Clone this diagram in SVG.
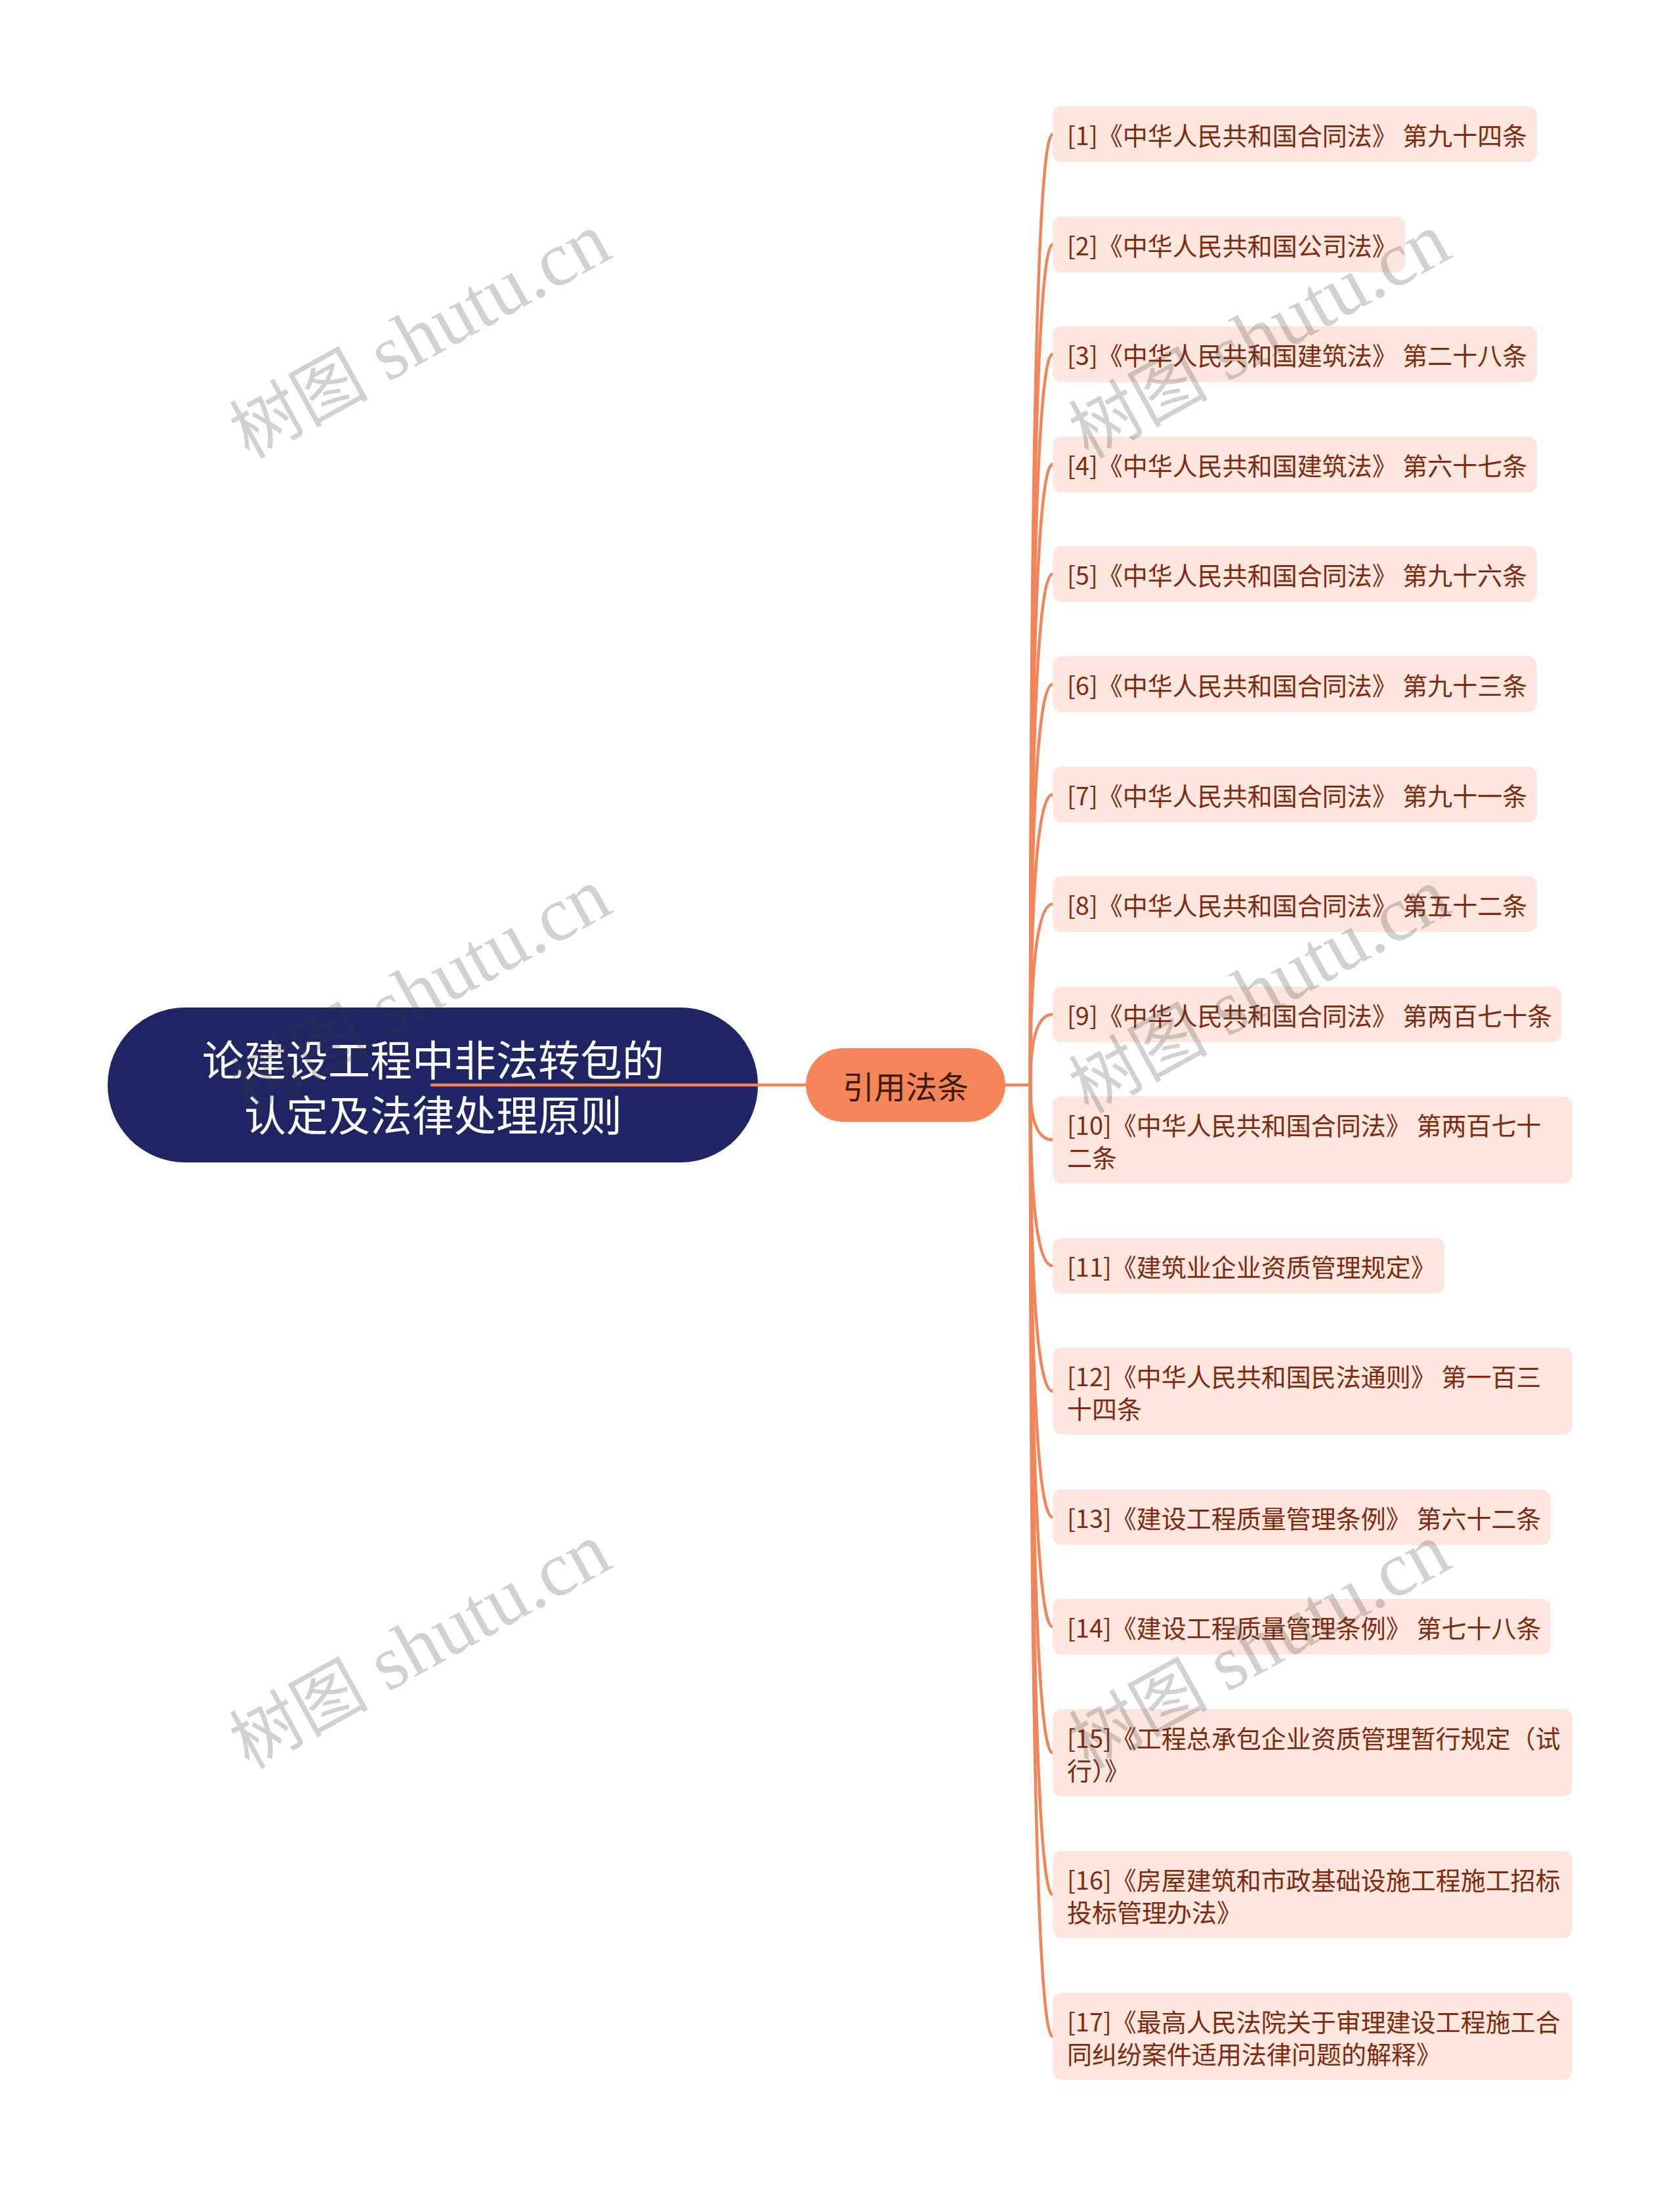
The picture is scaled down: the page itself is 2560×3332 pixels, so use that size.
<svg xmlns="http://www.w3.org/2000/svg" width="2560" height="3332" viewBox="0 0 2560 3332">
<style>
.box{fill:#fde6de}
.t{font-family:"Noto Sans CJK SC","Noto Sans",sans-serif;font-size:38px;fill:#7e2a0e;dominant-baseline:central}
.c{fill:none;stroke:#f2845a;stroke-width:4.5;stroke-linecap:round}
.wm{font-family:"Liberation Serif","Noto Sans CJK SC",serif;font-size:118px;fill:#3c3c3c;opacity:0.23;text-anchor:middle}
.wc{font-family:"Noto Sans CJK SC",serif;font-size:106px}
</style>
<rect width="2560" height="3332" fill="#ffffff"/>
<g id="root">
<rect x="164" y="1535" width="991" height="236" rx="118" ry="118" fill="#1f2563"/>
<text x="660" y="1611" font-family="Noto Sans CJK SC, sans-serif" font-size="64" fill="#ffffff" text-anchor="middle" dominant-baseline="central">论建设工程中非法转包的</text>
<text x="660" y="1695" font-family="Noto Sans CJK SC, sans-serif" font-size="64" fill="#ffffff" text-anchor="middle" dominant-baseline="central">认定及法律处理原则</text>
</g>
<g id="connectors">
<path class="c" d="M658 1653 H1228"/>
<path class="c" d="M1532 1653 H1570"/>
<path class="c" d="M1570 1653 Q1570 204.5 1604 204.5"/>
<path class="c" d="M1570 1653 Q1570 372.5 1604 372.5"/>
<path class="c" d="M1570 1653 Q1570 539.5 1604 539.5"/>
<path class="c" d="M1570 1653 Q1570 707.5 1604 707.5"/>
<path class="c" d="M1570 1653 Q1570 874.5 1604 874.5"/>
<path class="c" d="M1570 1653 Q1570 1042.5 1604 1042.5"/>
<path class="c" d="M1570 1653 Q1570 1210.5 1604 1210.5"/>
<path class="c" d="M1570 1653 Q1570 1377.5 1604 1377.5"/>
<path class="c" d="M1570 1653 Q1570 1545.5 1604 1545.5"/>
<path class="c" d="M1570 1653 Q1570 1736.5 1604 1736.5"/>
<path class="c" d="M1570 1653 Q1570 1928.5 1604 1928.5"/>
<path class="c" d="M1570 1653 Q1570 2119.5 1604 2119.5"/>
<path class="c" d="M1570 1653 Q1570 2311.5 1604 2311.5"/>
<path class="c" d="M1570 1653 Q1570 2478.5 1604 2478.5"/>
<path class="c" d="M1570 1653 Q1570 2670.5 1604 2670.5"/>
<path class="c" d="M1570 1653 Q1570 2886.5 1604 2886.5"/>
<path class="c" d="M1570 1653 Q1570 3102.5 1604 3102.5"/>
</g>
<g id="main">
<rect x="1228" y="1597" width="304" height="112" rx="56" ry="56" fill="#f7855a"/>
<text x="1380" y="1653" font-family="Noto Sans CJK SC, sans-serif" font-size="48" fill="#3a1c10" text-anchor="middle" dominant-baseline="central">引用法条</text>
</g>
<g id="n1"><rect class="box" x="1604" y="162" width="738" height="85" rx="14"/><text class="t" x="1626" y="204.5">[1]《中华人民共和国合同法》 第九十四条</text></g>
<g id="n2"><rect class="box" x="1604" y="330" width="537" height="85" rx="14"/><text class="t" x="1626" y="372.5">[2]《中华人民共和国公司法》</text></g>
<g id="n3"><rect class="box" x="1604" y="497" width="738" height="85" rx="14"/><text class="t" x="1626" y="539.5">[3]《中华人民共和国建筑法》 第二十八条</text></g>
<g id="n4"><rect class="box" x="1604" y="665" width="738" height="85" rx="14"/><text class="t" x="1626" y="707.5">[4]《中华人民共和国建筑法》 第六十七条</text></g>
<g id="n5"><rect class="box" x="1604" y="832" width="738" height="85" rx="14"/><text class="t" x="1626" y="874.5">[5]《中华人民共和国合同法》 第九十六条</text></g>
<g id="n6"><rect class="box" x="1604" y="1000" width="738" height="85" rx="14"/><text class="t" x="1626" y="1042.5">[6]《中华人民共和国合同法》 第九十三条</text></g>
<g id="n7"><rect class="box" x="1604" y="1168" width="738" height="85" rx="14"/><text class="t" x="1626" y="1210.5">[7]《中华人民共和国合同法》 第九十一条</text></g>
<g id="n8"><rect class="box" x="1604" y="1335" width="738" height="85" rx="14"/><text class="t" x="1626" y="1377.5">[8]《中华人民共和国合同法》 第五十二条</text></g>
<g id="n9"><rect class="box" x="1604" y="1503" width="775" height="85" rx="14"/><text class="t" x="1626" y="1545.5">[9]《中华人民共和国合同法》 第两百七十条</text></g>
<g id="n10"><rect class="box" x="1604" y="1670" width="792" height="133" rx="14"/><text class="t" x="1626" y="1712">[10]《中华人民共和国合同法》 第两百七十</text><text class="t" x="1626" y="1761">二条</text></g>
<g id="n11"><rect class="box" x="1604" y="1886" width="597" height="85" rx="14"/><text class="t" x="1626" y="1928.5">[11]《建筑业企业资质管理规定》</text></g>
<g id="n12"><rect class="box" x="1604" y="2053" width="792" height="133" rx="14"/><text class="t" x="1626" y="2095">[12]《中华人民共和国民法通则》 第一百三</text><text class="t" x="1626" y="2144">十四条</text></g>
<g id="n13"><rect class="box" x="1604" y="2269" width="759" height="85" rx="14"/><text class="t" x="1626" y="2311.5">[13]《建设工程质量管理条例》 第六十二条</text></g>
<g id="n14"><rect class="box" x="1604" y="2436" width="759" height="85" rx="14"/><text class="t" x="1626" y="2478.5">[14]《建设工程质量管理条例》 第七十八条</text></g>
<g id="n15"><rect class="box" x="1604" y="2604" width="792" height="133" rx="14"/><text class="t" x="1626" y="2646">[15]《工程总承包企业资质管理暂行规定（试</text><text class="t" x="1626" y="2695">行）》</text></g>
<g id="n16"><rect class="box" x="1604" y="2820" width="792" height="133" rx="14"/><text class="t" x="1626" y="2862">[16]《房屋建筑和市政基础设施工程施工招标</text><text class="t" x="1626" y="2911">投标管理办法》</text></g>
<g id="n17"><rect class="box" x="1604" y="3036" width="792" height="133" rx="14"/><text class="t" x="1626" y="3078">[17]《最高人民法院关于审理建设工程施工合</text><text class="t" x="1626" y="3127">同纠纷案件适用法律问题的解释》</text></g>
<g id="watermarks">
<text class="wm" transform="translate(658 545) rotate(-29)"><tspan class="wc">树图</tspan> shutu.cn</text>
<text class="wm" transform="translate(658 1543) rotate(-29)"><tspan class="wc">树图</tspan> shutu.cn</text>
<text class="wm" transform="translate(658 2541) rotate(-29)"><tspan class="wc">树图</tspan> shutu.cn</text>
<text class="wm" transform="translate(1937 545) rotate(-29)"><tspan class="wc">树图</tspan> shutu.cn</text>
<text class="wm" transform="translate(1937 1543) rotate(-29)"><tspan class="wc">树图</tspan> shutu.cn</text>
<text class="wm" transform="translate(1937 2541) rotate(-29)"><tspan class="wc">树图</tspan> shutu.cn</text>
</g>
</svg>
